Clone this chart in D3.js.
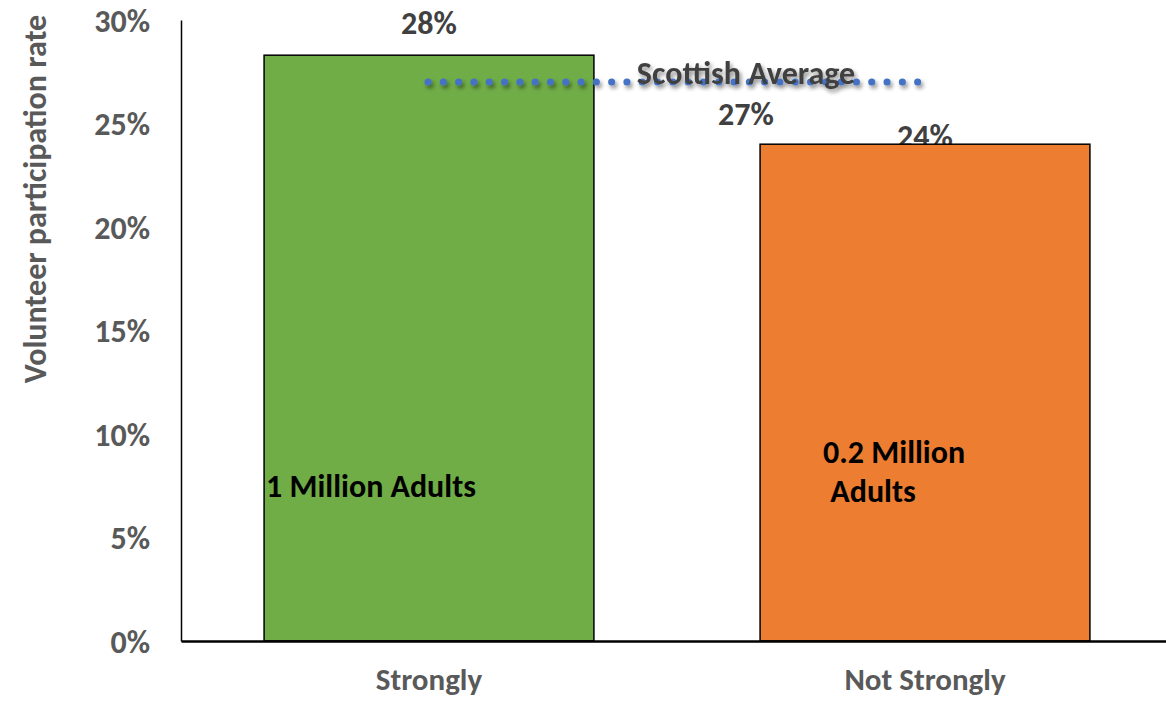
<!DOCTYPE html>
<html>
<head>
<meta charset="utf-8">
<script src="https://cdn.jsdelivr.net/npm/d3@7"></script>
<style>
  html, body { margin: 0; padding: 0; background: #fff; }
  svg { display: block; }
  text { font-family: "Liberation Sans Narrow", "Carlito", "Open Sans", sans-serif; font-weight: bold; }
</style>
</head>
<body>
<svg id="chart" width="1166" height="701"></svg>
<script>
// Volunteer participation by strength of belonging to the community
const categories = ["Strongly", "Not Strongly"];
const rates = [0.283, 0.24];
const barColors = ["#70AD47", "#ED7D31"];
const adultLabels = [["1 Million Adults"], ["0.2 Million", " Adults"]];
const scottishAverage = 0.27;
const yTicks = [0, 0.05, 0.10, 0.15, 0.20, 0.25, 0.30];

const svg = d3.select("#chart");
const margin = { left: 181, right: -7, top: 20, bottom: 60 };
const W = 1166, H = 701;
const FS = "32px";

const x = d3.scaleBand().domain(categories).range([margin.left, W - margin.right]).paddingInner(0.335).paddingOuter(0.1675);
const y = d3.scaleLinear().domain([0, 0.30]).range([H - margin.bottom, margin.top]);

const defs = svg.append("defs");
const shadow = defs.append("filter").attr("id", "shadow").attr("x", "-20%").attr("y", "-50%").attr("width", "140%").attr("height", "200%");
shadow.append("feGaussianBlur").attr("in", "SourceAlpha").attr("stdDeviation", 2);
shadow.append("feOffset").attr("dx", 2).attr("dy", 3).attr("result", "off");
shadow.append("feComponentTransfer").append("feFuncA").attr("type", "linear").attr("slope", 0.45);
const merge = shadow.append("feMerge");
merge.append("feMergeNode");
merge.append("feMergeNode").attr("in", "SourceGraphic");

// y axis
const yAxis = d3.axisLeft(y).tickValues(yTicks).tickFormat(d3.format(".0%")).tickSize(0).tickPadding(31);
const gy = svg.append("g").attr("transform", `translate(${margin.left},0)`).call(yAxis);
gy.select(".domain").attr("stroke", "#000").attr("stroke-width", 1.5);
gy.selectAll("text").attr("fill", "#595959").style("font-size", FS).attr("dy", "0.35em");

svg.append("text")
  .attr("transform", `translate(46,${(margin.top + 382) / 2 - 2}) rotate(-90)`)
  .attr("text-anchor", "middle")
  .attr("fill", "#595959")
  .style("font-size", FS)
  .text("Volunteer participation rate");

// value labels above bars (drawn first so the bars sit over them)
svg.selectAll(".val").data(categories).join("text")
  .attr("class", "val")
  .attr("x", d => x(d) + x.bandwidth() / 2)
  .attr("y", (d, i) => i === 0 ? 34 : 147)
  .attr("text-anchor", "middle")
  .attr("fill", "#404040")
  .style("font-size", FS)
  .text((d, i) => d3.format(".0%")(rates[i]));

// bars
svg.selectAll(".bar").data(categories).join("rect")
  .attr("class", "bar")
  .attr("x", d => x(d))
  .attr("width", x.bandwidth())
  .attr("y", (d, i) => y(rates[i]))
  .attr("height", (d, i) => y(0) - y(rates[i]))
  .attr("fill", (d, i) => barColors[i])
  .attr("stroke", "#000")
  .attr("stroke-width", 1.5);

// x axis
const xAxis = d3.axisBottom(x).tickSize(0).tickPadding(27);
const gx = svg.append("g").attr("transform", `translate(0,${y(0)})`).call(xAxis);
gx.select(".domain").attr("stroke", "#000").attr("stroke-width", 2.5);
gx.selectAll("text").attr("fill", "#595959").style("font-size", "31px");

// adults labels inside bars
const adultPos = [[{ dx: 2, y: 497 }], [{ dx: 63, y: 463 }, { dx: 63, y: 502 }]];
categories.forEach((c, i) => {
  adultLabels[i].forEach((line, j) => {
    svg.append("text")
      .attr("x", x(c) + adultPos[i][j].dx)
      .attr("y", adultPos[i][j].y)
      .attr("fill", "#000")
      .attr("xml:space", "preserve")
      .style("white-space", "pre")
      .style("font-size", FS)
      .text(line);
  });
});

// Scottish average dotted line
const avgY = y(scottishAverage);
const avgG = svg.append("g").attr("filter", "url(#shadow)");
avgG.append("line")
  .attr("x1", 428).attr("x2", 918)
  .attr("y1", avgY).attr("y2", avgY)
  .attr("stroke", "#4472C4")
  .attr("stroke-width", 7)
  .attr("stroke-linecap", "round")
  .attr("stroke-dasharray", "0.1 15.2");
avgG.append("text")
  .attr("x", 746).attr("y", avgY + 2)
  .attr("text-anchor", "middle")
  .attr("fill", "#404040")
  .style("font-size", FS)
  .text("Scottish Average");
svg.append("text")
  .attr("x", 746).attr("y", avgY + 43)
  .attr("text-anchor", "middle")
  .attr("fill", "#404040")
  .style("font-size", FS)
  .text(d3.format(".0%")(scottishAverage));
</script>
</body>
</html>
